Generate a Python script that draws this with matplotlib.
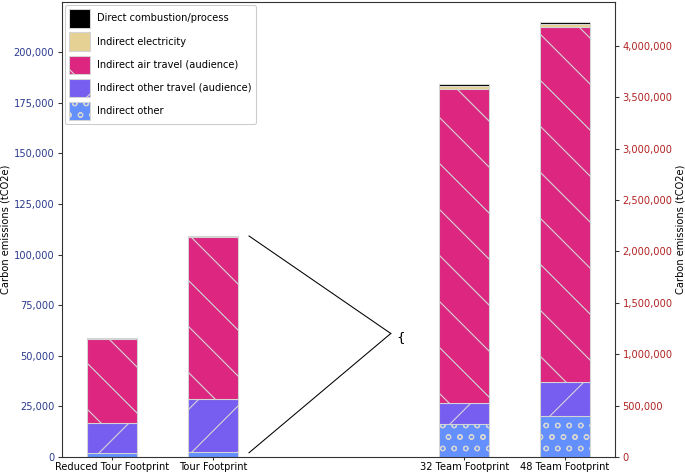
import matplotlib
matplotlib.use("Agg")
import matplotlib.pyplot as plt
from matplotlib.ticker import FuncFormatter

# ---- data ----
categories = ['Reduced Tour Footprint', 'Tour Footprint', '32 Team Footprint', '48 Team Footprint']
other = [1800, 2600, 321000, 399000]
other_travel = [14800, 26000, 202000, 334000]
air = [41600, 80000, 3058000, 3452000]
electricity = [300, 400, 28000, 30000]
direct = [100, 150, 18000, 16000]

series_names = ['Indirect other', 'Indirect other travel (audience)', 'Indirect air travel (audience)',
                'Indirect electricity', 'Direct combustion/process']
series_values = [other, other_travel, air, electricity, direct]
series_colors = ['#648fff', '#785ef0', '#dc267f', '#e6d195', '#000000']
series_hatch = ['oo', '/', '\\', '', '']

positions = [0, 1, 3.5, 4.5]
bar_width = 0.5

DPI = 138
plt.rcParams['hatch.linewidth'] = 0.6
plt.rcParams['font.size'] = 5.15
plt.rcParams['axes.linewidth'] = 0.55
plt.rcParams['xtick.major.size'] = 1.8
plt.rcParams['ytick.major.size'] = 2
plt.rcParams['xtick.major.width'] = 0.55
plt.rcParams['ytick.major.width'] = 0.55
plt.rcParams['xtick.major.pad'] = 0.8
plt.rcParams['ytick.major.pad'] = 2

fig = plt.figure(figsize=(685 / DPI, 474 / DPI), dpi=DPI)
ax = fig.add_axes([62 / 685, 17 / 474, (615 - 62) / 685, (472 - 17) / 474])
ax2 = ax.twinx()

edge = '#d4d4d4'
handles = []
for i, (name, vals, col, h) in enumerate(zip(series_names, series_values, series_colors, series_hatch)):
    for j in range(len(categories)):
        bottom = sum(series_values[k][j] for k in range(i))
        target = ax if j < 2 else ax2
        b = target.bar(positions[j], vals[j], bottom=bottom, width=bar_width, color=col,
                       edgecolor=edge, linewidth=0.55, hatch=h, zorder=2)
        if j == 0:
            handles.append(b)

ax.set_xlim(-0.5, 5.0)
ax.set_ylim(0, 224700)
ax2.set_ylim(0, 4428000)
ax.set_xticks(positions)
ax.set_xticklabels(categories)

fmt = FuncFormatter(lambda v, p: f'{int(v):,}')
ax.yaxis.set_major_formatter(fmt)
ax2.yaxis.set_major_formatter(fmt)
ax.set_yticks(range(0, 200001, 25000))
ax2.set_yticks(range(0, 4000001, 500000))
for sp in ['left', 'right', 'top', 'bottom']:
    ax.spines[sp].set_color('#333333')
    ax2.spines[sp].set_color('#333333')
ax.tick_params(axis='both', color='#333333')
ax.tick_params(axis='y', labelcolor='#2b3a8c')
ax2.tick_params(axis='y', color='#333333', labelcolor='#b22222')

ax.set_ylabel('Carbon emissions (tCO2e)', labelpad=1.5)
ax2.set_ylabel('Carbon emissions (tCO2e)', labelpad=1.5)

# connector lines and brace
tour_total = sum(v[1] for v in series_values)
line_x0, line_x1 = 1.36, 2.77
apex_y = 61000
ax.plot([line_x0, line_x1], [tour_total, apex_y], color='black', lw=0.55, zorder=3)
ax.plot([line_x0, line_x1], [2100, apex_y], color='black', lw=0.55, zorder=3)
ax.text(2.87, apex_y - 2000, '{', fontsize=7, ha='center', va='center')

leg = ax.legend(handles[::-1], series_names[::-1], loc='upper left', handlelength=2.05,
                handleheight=2.45, labelspacing=0.5, handletextpad=0.75, borderaxespad=0.3,
                borderpad=0.45, fancybox=True, framealpha=1, edgecolor='#cccccc')
leg.get_frame().set_linewidth(0.55)

fig.savefig('out.png', dpi=DPI)
